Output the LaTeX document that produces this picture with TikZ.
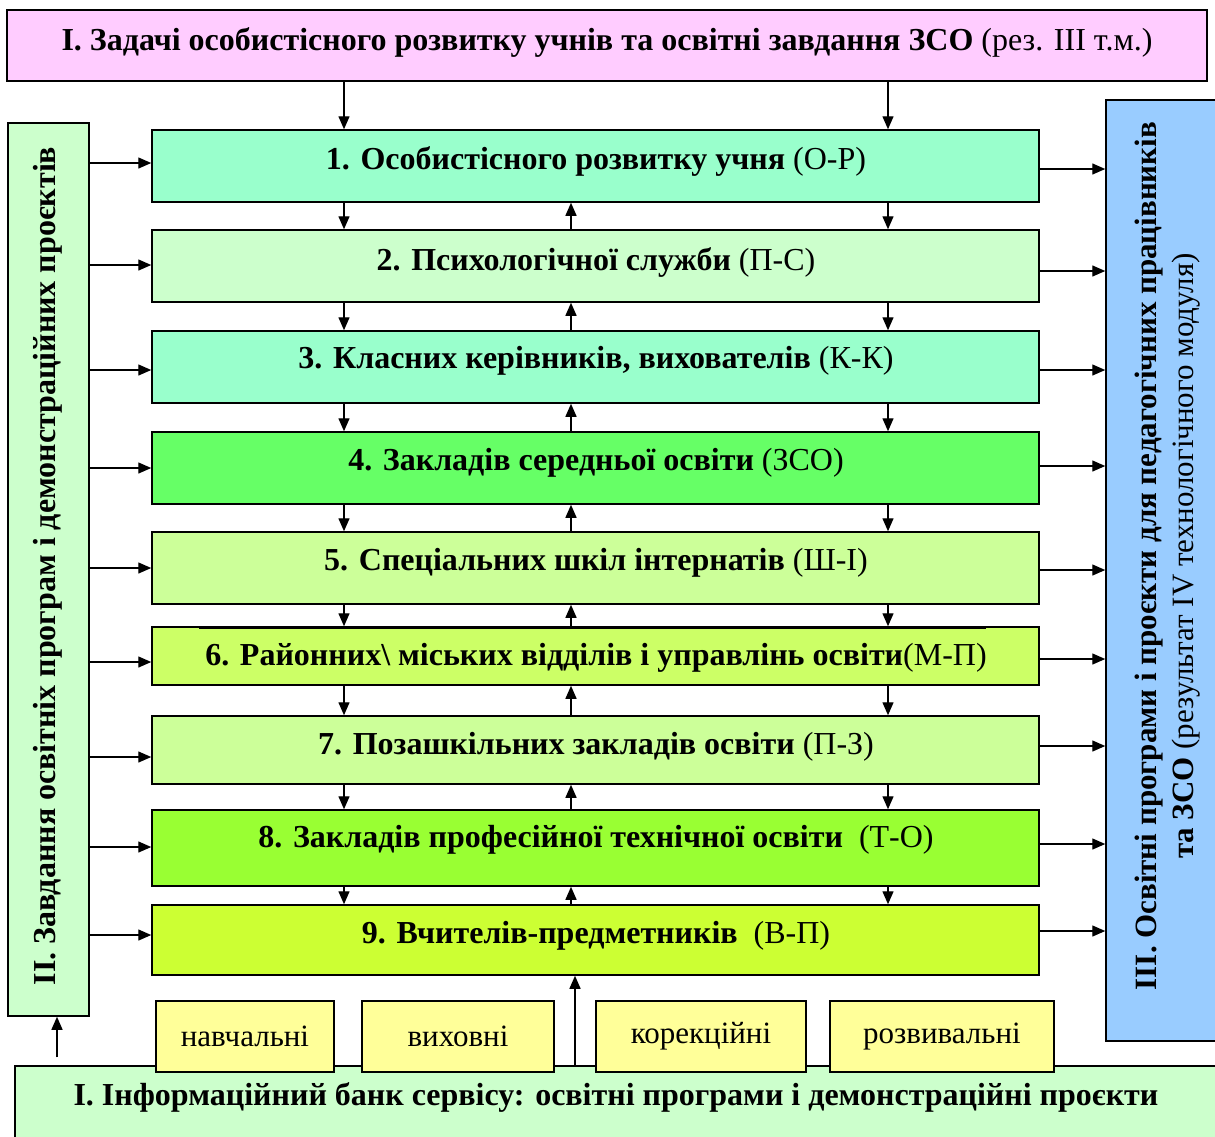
\documentclass[tikz,border=0pt]{standalone}
\usepackage{fontspec}
\setmainfont{Liberation Serif}
\usetikzlibrary{arrows.meta}
\definecolor{cpink}{HTML}{FFCCFF}
\definecolor{cmint}{HTML}{CCFFCC}
\definecolor{caqua}{HTML}{99FFCC}
\definecolor{cgreen}{HTML}{66FF66}
\definecolor{clime}{HTML}{CCFF99}
\definecolor{climeb}{HTML}{CCFF66}
\definecolor{climec}{HTML}{99FF33}
\definecolor{climed}{HTML}{CCFF33}
\definecolor{cblue}{HTML}{99CCFF}
\definecolor{cyel}{HTML}{FFFF99}
\begin{document}
\begin{tikzpicture}[x=1pt,y=-1pt,
  box/.style={draw=black, line width=1.5pt, inner sep=0pt},
  mainbox/.style={box, minimum width=887pt},
  ybox/.style={box, fill=cyel, minimum height=71pt, font=\fontsize{31}{34}\selectfont},
  txt/.style={inner sep=0pt, font=\fontsize{32}{34}\selectfont},
  arr/.style={line width=1.4pt, -{Triangle[length=13pt,width=11pt]}}]
\useasboundingbox (0,0) rectangle (1215,1136);
\coordinate (xl) at (344,0);
\coordinate (xm) at (571,0);
\coordinate (xr) at (888,0);
\coordinate (xb) at (575,0);
\coordinate (xs) at (57,0);

% top box
\node[box, fill=cpink, minimum width=1200pt, minimum height=71pt] (T) at (607,45.5) {};
\node[txt] (Tt) at (607,42) {\textbf{I. Задачі особистісного розвитку учнів та освітні завдання ЗСО} (рез. III т.м.)};

% left box
\node[box, fill=cmint, minimum width=81pt, minimum height=893pt] (L) at (48.5,569.5) {};
\node[txt, rotate=90, font=\fontsize{32}{34}\selectfont\bfseries] (Lt) at (48,566) {II. Завдання освітніх програм і демонстраційних проєктів};

% right box
\node[box, fill=cblue, minimum width=116pt, minimum height=941pt] (R) at (1164,570.5) {};
\node[txt, rotate=90, align=center, font=\fontsize{31}{37}\selectfont] (Rt) at (1168,556) {\textbf{III. Освітні програми і проєкти для педагогічних працівників}\\\textbf{та ЗСО} (результат IV технологічного модуля)};

% main boxes
\node[mainbox, fill=caqua,  minimum height=72pt] (b1) at (595.5,166) {};
\node[mainbox, fill=cmint,  minimum height=72pt] (b2) at (595.5,266) {};
\node[mainbox, fill=caqua,  minimum height=72pt] (b3) at (595.5,367) {};
\node[mainbox, fill=cgreen, minimum height=72pt] (b4) at (595.5,468) {};
\node[mainbox, fill=clime,  minimum height=72pt] (b5) at (595.5,568) {};
\node[mainbox, fill=climeb, minimum height=58pt] (b6) at (595.5,656) {};
\node[mainbox, fill=clime,  minimum height=68pt] (b7) at (595.5,750) {};
\node[mainbox, fill=climec, minimum height=76pt] (b8) at (595.5,848) {};
\node[mainbox, fill=climed, minimum height=70pt] (b9) at (595.5,940) {};
\draw[line width=1pt] ([xshift=48pt,yshift=-2.5pt]b6.north west) -- ([xshift=-54pt,yshift=-2.5pt]b6.north east);

\node[txt] (t1) at (596,161) {\textbf{1. Особистісного розвитку учня} (О-Р)};
\node[txt] (t2) at (596,262) {\textbf{2. Психологічної служби} (П-С)};
\node[txt] (t3) at (596,361) {\textbf{3. Класних керівників, вихователів} (К-К)};
\node[txt] (t4) at (596,463) {\textbf{4. Закладів середньої освіти} (ЗСО)};
\node[txt] (t5) at (596,563) {\textbf{5. Спеціальних шкіл інтернатів} (Ш-І)};
\node[txt] (t6) at (596,658) {\textbf{6. Районних\textbackslash{} міських відділів і управлінь освіти}(М-П)};
\node[txt] (t7) at (596,747) {\textbf{7. Позашкільних закладів освіти} (П-З)};
\node[txt] (t8) at (596,840) {\textbf{8. Закладів професійної технічної освіти}\ \ (Т-О)};
\node[txt] (t9) at (596,936) {\textbf{9. Вчителів-предметників}\ \ (В-П)};

% bottom box
\node[box, fill=cmint, minimum width=1205pt, minimum height=75pt] (B) at (617.5,1103.5) {};
\node[txt] (Bt) at (616,1097) {\bfseries I. Інформаційний банк сервісу: освітні програми і демонстраційні проєкти};

% yellow boxes
\node[ybox, minimum width=178pt] (y1) at (245,1036.5) {навчальні};
\node[ybox, minimum width=192pt] (y2) at (458,1036.5) {виховні};
\node[ybox, minimum width=210pt] (y3) at (701,1036.5) {корекційні};
\node[ybox, minimum width=224pt] (y4) at (942,1036.5) {розвивальні};

% arrows top
\draw[arr] (T.south -| xl) -- (b1.north -| xl);
\draw[arr] (T.south -| xr) -- (b1.north -| xr);

% arrows between boxes
\foreach \a/\b in {b1/b2,b2/b3,b3/b4,b4/b5,b5/b6,b6/b7,b7/b8,b8/b9}{
  \draw[arr] (\a.south -| xl) -- (\b.north -| xl);
  \draw[arr] (\a.south -| xr) -- (\b.north -| xr);
  \draw[arr] (\b.north -| xm) -- (\a.south -| xm);
}

% left arrows
\foreach \b/\s in {b1/3,b2/1,b3/-3,b4/0,b5/0,b6/-6,b7/-7,b8/1,b9/5}{
  \draw[arr] ([yshift=\s pt]L.east |- \b.west) -- ([yshift=\s pt]\b.west);
}
% right arrows
\foreach \b/\s in {b1/-3,b2/-5,b3/-3,b4/2,b5/-2,b6/-3,b7/4,b8/4,b9/9}{
  \draw[arr] ([yshift=\s pt]\b.east) -- ([yshift=\s pt]R.west |- \b.east);
}

% bottom arrows
\draw[arr] (B.north -| xb) -- (b9.south -| xb);
\draw[arr] ([yshift=8pt]B.north -| xs) -- (L.south -| xs);
\end{tikzpicture}
\end{document}
